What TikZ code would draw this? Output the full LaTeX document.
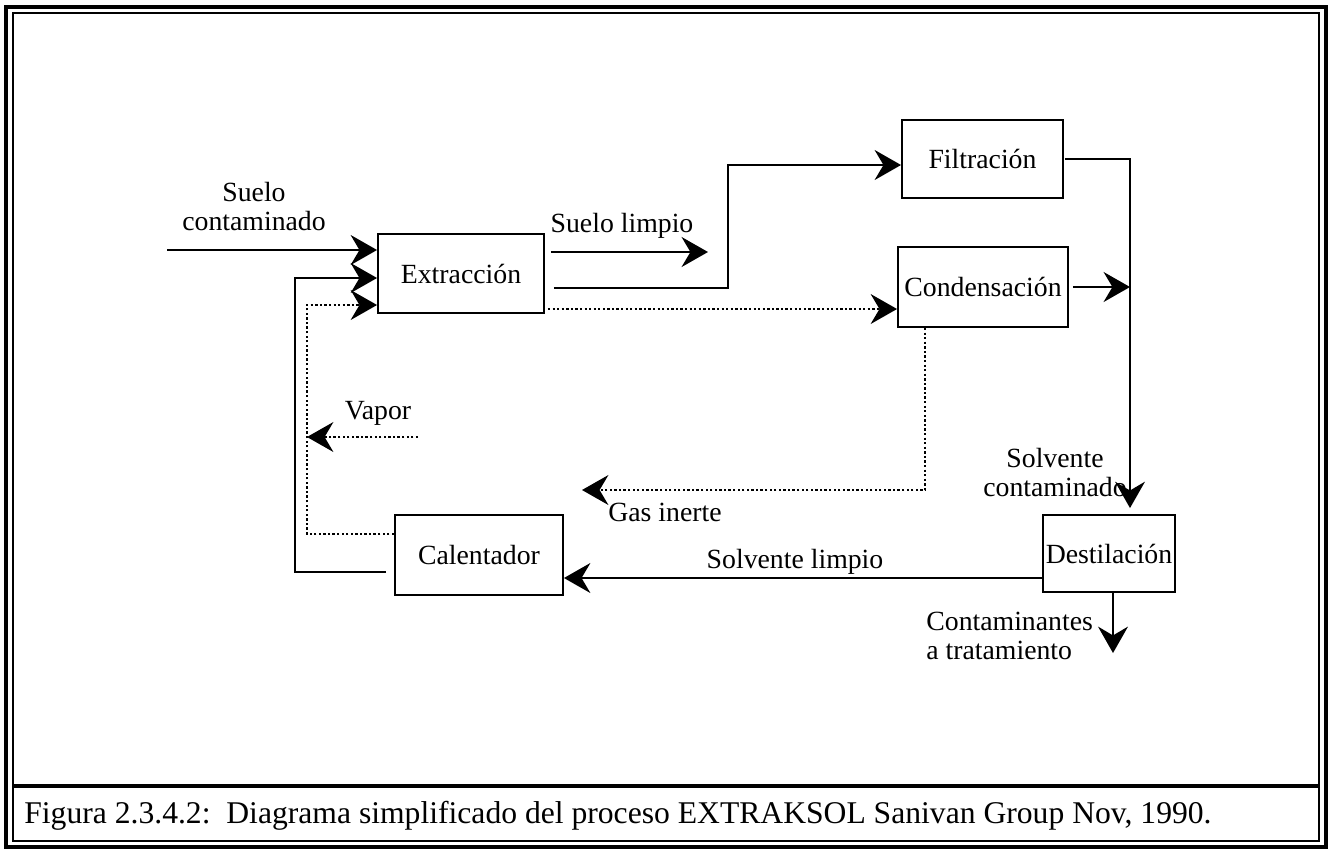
\documentclass[tikz,border=0pt]{standalone}
\usepackage{fontspec}
\setmainfont{Liberation Serif}
\usetikzlibrary{arrows.meta}

\tikzset{
  procbox/.style={draw, line width=1.1pt, inner sep=0pt, font=\fontsize{15.8}{17}\selectfont},
  lbl/.style={inner sep=0pt, font=\fontsize{15.8}{16.5}\selectfont},
  flow/.style={line width=1.6pt, -{Stealth[length=15pt,width=17pt,inset=5pt]}},
  gasline/.style={line width=1.2pt, dash pattern=on 1.3pt off 1.3pt},
}

\begin{document}
\begin{tikzpicture}[x=0.02cm, y=-0.02cm]
\useasboundingbox (0,0) rectangle (1332,850);

%-- marco doble y pie de figura --
\draw[line width=1.8pt] (6,7) rectangle (1326,847);
\draw[line width=1.2pt] (13,13) rectangle (1319,841);
\draw[line width=1.8pt] (13,786) -- (1319,786);
\node[inner sep=0pt, anchor=west, font=\fontsize{18}{20}\selectfont] (caption) at (24,816)
  {Figura 2.3.4.2:\ \ Diagrama simplificado del proceso EXTRAKSOL Sanivan Group Nov, 1990.};

%-- unidades del proceso --
\node[procbox, minimum width=3.32cm, minimum height=1.58cm] (extr)   at (461,273.5) {Extracción};
\node[procbox, minimum width=3.22cm, minimum height=1.56cm] (filt)   at (982.5,159) {Filtración};
\node[procbox, minimum width=3.40cm, minimum height=1.60cm] (cond)   at (983,287)   {Condensación};
\node[procbox, minimum width=3.36cm, minimum height=1.60cm] (calent) at (479,555)   {Calentador};
\node[procbox, minimum width=2.64cm, minimum height=1.54cm] (destil) at (1109,553.5) {Destilación};

%-- puntos de quiebre de las lineas --
\coordinate (soilIn)   at (167,250);
\coordinate (retLow)   at (295,572);
\coordinate (retUp)    at (295,278);
\coordinate (vapLow)   at (307,534);
\coordinate (vapUp)    at (307,305);
\coordinate (vapSrc)   at (418,437);
\coordinate (cleanTip) at (708,252);
\coordinate (filtLow)  at (728,288);
\coordinate (filtUp)   at (728,165);
\coordinate (gasRow)   at (700,309);
\coordinate (solvTop)  at (1130,159);
\coordinate (gasDown)  at (925,490);
\coordinate (gasTip)   at (582,490);
\coordinate (solvRow)  at (800,578);
\coordinate (wasteTip) at (1113,653);

%-- entrada de suelo y retornos a la extraccion --
\draw[flow] (soilIn) -- (soilIn -| extr.west);
\node[lbl, align=center] (soilLbl) at (254,206) {Suelo\\contaminado};
\draw[flow, line width=1.3pt, shorten <=0.16cm]
  (calent.west |- retLow) -- (retLow) -- (retUp) -- (extr.west |- retUp);
\draw[flow, gasline]
  (calent.west |- vapLow) -- (vapLow) -- (vapUp) -- (extr.west |- vapUp);
\draw[flow, gasline] (vapSrc) -- (vapSrc -| vapLow);
\node[lbl] (vaporLbl) at (378,413) {Vapor};

%-- salidas de la extraccion --
\draw[flow, shorten <=0.12cm] (extr.east |- cleanTip) -- (cleanTip);
\node[lbl] (cleanLbl) at (622,226) {Suelo limpio};
\draw[flow, shorten <=0.18cm]
  (extr.east |- filtLow) -- (filtLow) -- (filtUp) -- (filt.west |- filtUp);
\draw[flow, gasline, shorten <=0.06cm] (extr.east |- gasRow) -- (cond.west |- gasRow);

%-- solvente hacia la destilacion --
\draw[flow, line width=1.1pt, shorten <=0.02cm, shorten >=0.12cm]
  (filt.east) -- (solvTop) -- (solvTop |- destil.north);
\draw[flow, shorten <=0.08cm] (cond.east) -- (cond.east -| solvTop);
\node[lbl, align=center] (dirtyLbl) at (1055,472) {Solvente\\contaminado};

%-- gas inerte --
\draw[flow, gasline] (cond.south -| gasDown) -- (gasDown) -- (gasTip);
\node[lbl, anchor=west] (gasLbl) at (608,512) {Gas inerte};

%-- solvente limpio y contaminantes --
\draw[flow] (destil.west |- solvRow) -- (calent.east |- solvRow);
\node[lbl] (solvLbl) at (795,562) {Solvente limpio};
\draw[flow, line width=1.3pt] (destil.south -| wasteTip) -- (wasteTip);
\node[lbl, align=left, anchor=west] (wasteLbl) at (926,636) {Contaminantes\\a tratamiento};

\end{tikzpicture}
\end{document}
